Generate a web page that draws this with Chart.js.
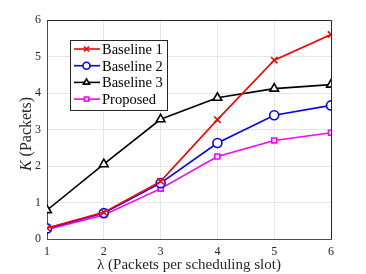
<!DOCTYPE html>
<html>
<head>
<meta charset="utf-8">
<script src="https://cdn.jsdelivr.net/npm/chart.js@4"></script>
<style>
  html, body { margin: 0; padding: 0; background: #fff; }
  #wrap { width: 366px; height: 274px; }
</style>
</head>
<body>
<div id="wrap"><canvas id="chart" width="366" height="274"></canvas></div>
<script>
// Data
const lambdaValues = [1, 2, 3, 4, 5, 6];
const baseline1 = [0.30, 0.73, 1.58, 3.27, 4.90, 5.60];
const baseline2 = [0.29, 0.71, 1.53, 2.63, 3.39, 3.66];
const baseline3 = [0.79, 2.05, 3.28, 3.87, 4.12, 4.23];
const proposed = [0.26, 0.66, 1.38, 2.26, 2.70, 2.91];
const xTicks = [1, 2, 3, 4, 5, 6];
const yTicks = [0, 1, 2, 3, 4, 5, 6];

const serif = "'Liberation Serif', 'DejaVu Serif', serif";
const axisGrey = '#4d4d4d';

function toPoints(vals) {
    return lambdaValues.map((x, i) => ({ x: x, y: vals[i] }));
}

function series(label, vals, color, style) {
    return {
        label: label,
        data: toPoints(vals),
        borderColor: color,
        backgroundColor: '#ffffff',
        pointBorderColor: color,
        pointBackgroundColor: '#ffffff',
        pointStyle: style,
        pointRadius: style === 'rect' ? 3.5 : (style === 'triangle' ? 5 : 4.5),
        pointBorderWidth: 1.6,
        borderWidth: 1.6,
        tension: 0,
        fill: false
    };
}

// Box around plot + custom axis titles + inset legend
const decorations = {
    id: 'decorations',
    afterDraw(chart) {
        const ctx = chart.ctx;
        const a = chart.chartArea;
        ctx.save();
        ctx.strokeStyle = '#262626';
        ctx.lineWidth = 1;
        ctx.beginPath();
        ctx.moveTo(a.left, a.top + 0.5);
        ctx.lineTo(a.right + 0.5, a.top + 0.5);
        ctx.lineTo(a.right + 0.5, a.bottom);
        ctx.stroke();

        // x title
        ctx.fillStyle = '#262626';
        ctx.font = `15px ${serif}`;
        ctx.textAlign = 'center';
        ctx.textBaseline = 'middle';
        ctx.fillText('λ (Packets per scheduling slot)', (a.left + a.right) / 2, 265);

        // y title with italic K
        ctx.translate(27, 134);
        ctx.rotate(-Math.PI / 2);
        ctx.textAlign = 'left';
        const kFont = `italic 16px ${serif}`;
        const restFont = `16px ${serif}`;
        ctx.font = kFont;
        const kW = ctx.measureText('K').width;
        ctx.font = restFont;
        const restText = ' (Packets)';
        const rW = ctx.measureText(restText).width;
        const start = -(kW + rW) / 2;
        ctx.font = kFont;
        ctx.fillText('K', start, 0);
        ctx.font = restFont;
        ctx.fillText(restText, start + kW, 0);
        ctx.restore();

        // legend
        ctx.save();
        const lx = 70, ly = 40, lw = 97, lh = 70;
        ctx.fillStyle = '#fff';
        ctx.fillRect(lx, ly, lw, lh);
        ctx.strokeStyle = '#262626';
        ctx.lineWidth = 1;
        ctx.strokeRect(lx + 0.5, ly + 0.5, lw, lh);
        ctx.font = `14.5px ${serif}`;
        ctx.textAlign = 'left';
        ctx.textBaseline = 'middle';
        chart.data.datasets.forEach((ds, i) => {
            const y = ly + 9 + i * 16.7;
            ctx.strokeStyle = ds.borderColor;
            ctx.lineWidth = ds.borderWidth;
            ctx.beginPath();
            ctx.moveTo(lx + 4, y);
            ctx.lineTo(lx + 30, y);
            ctx.stroke();
            ctx.fillStyle = '#ffffff';
            Chart.helpers.drawPoint(ctx, {
                pointStyle: ds.pointStyle,
                radius: ds.pointStyle === 'rect' ? 3 : 3.5,
                borderWidth: ds.pointBorderWidth
            }, lx + 16.5, y);
            ctx.fillStyle = '#000';
            ctx.fillText(ds.label, lx + 32, y + 1);
        });
        ctx.restore();
    }
};

new Chart(document.getElementById('chart'), {
    type: 'line',
    data: {
        datasets: [
            series('Baseline 1', baseline1, '#ff0000', 'crossRot'),
            series('Baseline 2', baseline2, '#0000ff', 'circle'),
            series('Baseline 3', baseline3, '#000000', 'triangle'),
            series('Proposed', proposed, '#ff00ff', 'rect')
        ]
    },
    options: {
        responsive: false,
        animation: false,
        layout: { padding: { left: 0, right: 35, top: 20, bottom: 0 } },
        plugins: {
            legend: { display: false },
            tooltip: { enabled: false }
        },
        scales: {
            x: {
                type: 'linear',
                min: 1,
                max: 6,
                afterFit: (s) => { s.height = 35; },
                afterBuildTicks: (s) => { s.ticks = xTicks.map(v => ({ value: v })); },
                grid: { color: '#e6e6e6', drawTicks: false },
                border: { color: axisGrey, width: 1 },
                ticks: { color: '#262626', padding: 6, font: { family: serif, size: 12 } }
            },
            y: {
                min: 0,
                max: 6,
                afterFit: (s) => { s.width = 47; },
                afterBuildTicks: (s) => { s.ticks = yTicks.map(v => ({ value: v })); },
                grid: { color: '#e6e6e6', drawTicks: false },
                border: { color: axisGrey, width: 1 },
                ticks: { color: '#262626', padding: 6, font: { family: serif, size: 12 } }
            }
        }
    },
    plugins: [decorations]
});
</script>
</body>
</html>
